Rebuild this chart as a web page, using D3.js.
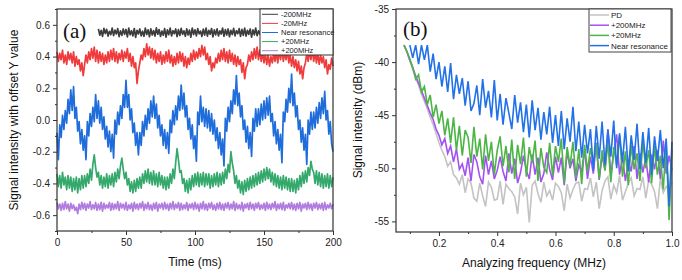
<!DOCTYPE html>
<html>
<head>
<meta charset="utf-8">
<script src="https://cdn.jsdelivr.net/npm/d3@7"></script>
<style>
  body { margin: 0; background: #fff; }
  svg { font-family: "Liberation Sans", Arial, sans-serif; }
</style>
</head>
<body>
<svg id="chart" width="682" height="280"></svg>
<script>
// ---- panel (a): time traces, one value every 1 ms ----
const tStep = 1
const blackStart = 30   // the -200MHz trace only starts at 30 ms

const minus200 = [0.575,0.535,0.565,0.527,0.578,0.545,0.572,0.529,0.559,0.538,
  0.580,0.532,0.567,0.542,0.576,0.526,0.562,0.534,0.574,0.540,
  0.571,0.524,0.579,0.537,0.563,0.530,0.577,0.521,0.566,0.543,
  0.574,0.531,0.560,0.528,0.579,0.539,0.569,0.525,0.575,0.536,
  0.564,0.529,0.581,0.541,0.570,0.527,0.561,0.535,0.576,0.523,
  0.568,0.538,0.579,0.530,0.563,0.544,0.574,0.526,0.570,0.533,
  0.578,0.540,0.562,0.528,0.575,0.536,0.567,0.522,0.580,0.539,
  0.569,0.531,0.576,0.543,0.561,0.527,0.573,0.535,0.579,0.529,
  0.566,0.541,0.577,0.524,0.568,0.537,0.575,0.530,0.562,0.542,
  0.580,0.528,0.570,0.536,0.574,0.525,0.565,0.539,0.578,0.531,
  0.563,0.544,0.576,0.527,0.571,0.534,0.579,0.529,0.566,0.540,
  0.574,0.523,0.568,0.537,0.580,0.532,0.562,0.541,0.575,0.526,
  0.569,0.535,0.577,0.530,0.564,0.543,0.573,0.528,0.579,0.538,
  0.566,0.524,0.575,0.536,0.570,0.531,0.562,0.542,0.578,0.527,
  0.571,0.539,0.576,0.529,0.565,0.534,0.580,0.525,0.568,0.541,
  0.574,0.532,0.563,0.537,0.577,0.528,0.569,0.543,0.575,0.530,
  0.566,0.535,0.579,0.526,0.571,0.538,0.564,0.533,0.576,0.529,
  0.570]

const minus20 = [0.43,0.37,0.42,0.38,0.44,0.36,0.41,0.35,0.43,0.38,
  0.42,0.36,0.43,0.34,0.40,0.35,0.38,0.31,0.36,0.28,
  0.35,0.41,0.36,0.43,0.38,0.45,0.39,0.46,0.37,0.44,
  0.36,0.43,0.37,0.42,0.35,0.41,0.36,0.43,0.37,0.44,
  0.38,0.45,0.37,0.43,0.36,0.42,0.38,0.44,0.37,0.43,
  0.39,0.45,0.37,0.42,0.34,0.40,0.33,0.36,0.23,0.31,
  0.36,0.41,0.38,0.45,0.40,0.48,0.41,0.46,0.39,0.45,
  0.38,0.44,0.36,0.42,0.37,0.43,0.35,0.41,0.36,0.43,
  0.37,0.44,0.36,0.41,0.34,0.40,0.35,0.42,0.36,0.43,
  0.37,0.42,0.34,0.40,0.33,0.39,0.35,0.42,0.37,0.44,
  0.38,0.43,0.39,0.45,0.40,0.47,0.41,0.46,0.38,0.42,
  0.35,0.40,0.31,0.36,0.33,0.39,0.36,0.42,0.37,0.44,
  0.38,0.45,0.37,0.43,0.36,0.44,0.37,0.42,0.35,0.41,
  0.34,0.40,0.35,0.38,0.30,0.36,0.26,0.33,0.35,0.41,
  0.37,0.43,0.38,0.45,0.39,0.46,0.38,0.44,0.37,0.43,
  0.36,0.42,0.35,0.41,0.34,0.40,0.36,0.42,0.37,0.43,
  0.36,0.44,0.38,0.45,0.37,0.43,0.38,0.44,0.36,0.41,
  0.34,0.40,0.33,0.38,0.31,0.37,0.29,0.34,0.26,0.33,
  0.36,0.42,0.37,0.44,0.38,0.45,0.37,0.43,0.36,0.42,
  0.35,0.41,0.36,0.40,0.33,0.38,0.29,0.35,0.32,0.39,
  0.34]

const nearRes = [-0.08,-0.25,-0.03,-0.11,0.03,-0.06,0.06,-0.02,0.13,0.04,
  0.19,0.06,0.21,0.01,0.08,-0.07,-0.01,-0.15,-0.06,-0.19,
  -0.10,-0.25,-0.01,-0.10,0.04,-0.04,0.08,-0.01,0.16,0.01,
  0.12,-0.02,0.08,-0.06,0.02,-0.12,-0.04,-0.17,-0.07,-0.20,
  -0.09,-0.24,0.00,-0.09,0.05,-0.03,0.09,0.01,0.16,0.08,
  0.25,0.08,0.16,0.00,0.07,-0.08,-0.02,-0.16,-0.08,-0.22,
  -0.08,-0.16,-0.01,-0.10,0.03,-0.06,0.07,-0.02,0.12,0.02,
  0.15,0.01,0.10,-0.05,0.03,-0.10,-0.03,-0.16,-0.06,-0.18,
  -0.08,-0.21,0.00,-0.08,0.06,-0.03,0.09,0.00,0.15,0.06,
  0.22,0.07,0.17,0.02,0.09,-0.06,0.01,-0.12,-0.03,-0.18,
  -0.10,-0.26,0.05,-0.03,0.15,-0.01,0.08,-0.04,0.07,-0.05,
  0.06,-0.07,0.04,-0.09,0.00,-0.13,-0.05,-0.18,-0.08,-0.22,
  -0.12,-0.29,0.01,-0.07,0.08,-0.01,0.12,0.04,0.19,0.10,
  0.28,0.09,0.17,0.02,0.09,-0.06,0.00,-0.14,-0.04,-0.18,
  -0.08,-0.23,0.01,-0.07,0.07,-0.04,0.07,-0.03,0.10,0.00,
  0.12,0.01,0.14,0.03,0.15,-0.01,0.04,-0.10,-0.01,-0.15,
  -0.06,-0.19,-0.09,-0.27,0.05,-0.01,0.13,0.05,0.20,0.11,
  0.29,0.09,0.17,0.02,0.09,-0.06,0.00,-0.14,-0.05,-0.19,
  -0.09,-0.28,0.00,-0.09,0.05,-0.06,0.05,-0.05,0.08,-0.02,
  0.11,0.01,0.14,0.04,0.18,0.00,0.06,-0.09,-0.01,-0.15,
  -0.20]

const plus20 = [-0.34,-0.42,-0.35,-0.43,-0.33,-0.41,-0.36,-0.44,-0.35,-0.43,
  -0.36,-0.45,-0.37,-0.44,-0.36,-0.46,-0.37,-0.44,-0.35,-0.43,
  -0.35,-0.42,-0.34,-0.40,-0.31,-0.38,-0.28,-0.22,-0.30,-0.36,
  -0.33,-0.41,-0.35,-0.43,-0.36,-0.42,-0.34,-0.43,-0.35,-0.41,
  -0.34,-0.42,-0.33,-0.39,-0.31,-0.37,-0.29,-0.24,-0.31,-0.37,
  -0.33,-0.41,-0.37,-0.45,-0.39,-0.46,-0.38,-0.45,-0.37,-0.43,
  -0.36,-0.43,-0.34,-0.40,-0.32,-0.39,-0.31,-0.40,-0.33,-0.41,
  -0.32,-0.41,-0.34,-0.42,-0.33,-0.41,-0.35,-0.43,-0.36,-0.44,
  -0.36,-0.43,-0.34,-0.40,-0.31,-0.37,-0.27,-0.18,-0.25,-0.33,
  -0.32,-0.40,-0.37,-0.45,-0.38,-0.46,-0.37,-0.44,-0.35,-0.42,
  -0.34,-0.41,-0.33,-0.42,-0.34,-0.41,-0.33,-0.42,-0.34,-0.41,
  -0.34,-0.43,-0.35,-0.42,-0.34,-0.41,-0.33,-0.42,-0.34,-0.41,
  -0.33,-0.40,-0.31,-0.37,-0.28,-0.33,-0.20,-0.27,-0.32,-0.40,
  -0.35,-0.43,-0.38,-0.46,-0.39,-0.47,-0.38,-0.45,-0.37,-0.44,
  -0.36,-0.43,-0.35,-0.42,-0.34,-0.41,-0.33,-0.40,-0.32,-0.39,
  -0.31,-0.38,-0.30,-0.37,-0.31,-0.39,-0.33,-0.41,-0.34,-0.42,
  -0.35,-0.43,-0.36,-0.44,-0.35,-0.43,-0.36,-0.44,-0.37,-0.45,
  -0.37,-0.45,-0.38,-0.46,-0.37,-0.44,-0.35,-0.42,-0.33,-0.40,
  -0.32,-0.39,-0.30,-0.35,-0.26,-0.31,-0.33,-0.40,-0.32,-0.41,
  -0.33,-0.42,-0.34,-0.43,-0.35,-0.42,-0.34,-0.43,-0.35,-0.42,
  -0.36]

const plus200 = [-0.52,-0.56,-0.53,-0.57,-0.525,-0.565,-0.515,-0.56,-0.53,-0.575,
  -0.525,-0.56,-0.535,-0.57,-0.55,-0.59,-0.53,-0.565,-0.52,-0.56,
  -0.525,-0.57,-0.53,-0.555,-0.515,-0.565,-0.535,-0.56,-0.52,-0.57,
  -0.53,-0.565,-0.52,-0.575,-0.525,-0.56,-0.535,-0.555,-0.52,-0.57,
  -0.525,-0.565,-0.53,-0.56,-0.515,-0.57,-0.525,-0.555,-0.53,-0.565,
  -0.52,-0.57,-0.535,-0.56,-0.525,-0.575,-0.52,-0.56,-0.53,-0.565,
  -0.525,-0.555,-0.515,-0.57,-0.53,-0.56,-0.52,-0.565,-0.535,-0.57,
  -0.525,-0.56,-0.52,-0.575,-0.53,-0.555,-0.525,-0.565,-0.52,-0.56,
  -0.53,-0.57,-0.525,-0.56,-0.515,-0.565,-0.53,-0.555,-0.52,-0.57,
  -0.525,-0.565,-0.535,-0.56,-0.52,-0.57,-0.53,-0.555,-0.525,-0.565,
  -0.52,-0.56,-0.53,-0.575,-0.525,-0.56,-0.515,-0.565,-0.53,-0.57,
  -0.525,-0.555,-0.52,-0.565,-0.535,-0.57,-0.525,-0.56,-0.52,-0.565,
  -0.53,-0.57,-0.525,-0.555,-0.52,-0.565,-0.53,-0.56,-0.515,-0.57,
  -0.525,-0.56,-0.535,-0.565,-0.52,-0.575,-0.53,-0.555,-0.525,-0.565,
  -0.52,-0.56,-0.53,-0.57,-0.525,-0.555,-0.52,-0.565,-0.535,-0.56,
  -0.525,-0.57,-0.52,-0.56,-0.53,-0.565,-0.525,-0.555,-0.515,-0.57,
  -0.53,-0.56,-0.525,-0.565,-0.52,-0.57,-0.535,-0.555,-0.525,-0.56,
  -0.52,-0.565,-0.53,-0.57,-0.525,-0.56,-0.52,-0.575,-0.53,-0.555,
  -0.525,-0.565,-0.52,-0.56,-0.53,-0.57,-0.525,-0.555,-0.52,-0.565,
  -0.53,-0.56,-0.525,-0.57,-0.52,-0.565,-0.535,-0.555,-0.525,-0.56,
  -0.53]

const traceNames = ["-200MHz", "-20MHz", "Near resonance", "+20MHz", "+200MHz"]
const traceColors = ["#3d3d3d", "#ef3b3b", "#1f6cdb", "#35a96c", "#b07ce0"]
const traceData = [minus200, minus20, nearRes, plus20, plus200]
const traceStart = [blackStart, 0, 0, 0, 0]

const timeTicks = [0, 50, 100, 150, 200]
const offsetTicks = [-0.6, -0.4, -0.2, 0.0, 0.2, 0.4, 0.6]

// ---- panel (b): spectra, one value every 0.01 MHz from 0.08 MHz ----
const fStart = 0.08
const fStep = 0.01

const pd = [-38.4,-39.1,-39.9,-40.7,-41.5,-42.2,-43.0,-43.7,-44.4,-45.2,
  -45.9,-46.7,-47.6,-48.3,-48.9,-49.8,-49.4,-50.6,-50.9,-51.5,
  -50.6,-52.3,-51.0,-51.4,-52.8,-53.1,-51.4,-52.6,-53.6,-51.3,
  -51.8,-53.0,-52.9,-51.2,-53.4,-51.5,-51.9,-52.2,-52.7,-54.3,
  -51.4,-52.5,-51.8,-55.1,-51.6,-51.2,-52.4,-53.2,-51.3,-52.6,
  -52.1,-53.0,-51.4,-51.7,-52.3,-54.0,-51.5,-52.8,-52.0,-51.4,
  -51.3,-53.1,-51.9,-52.0,-50.9,-52.7,-51.3,-53.8,-52.1,-51.2,
  -50.8,-52.9,-51.6,-52.3,-50.7,-53.0,-52.2,-51.4,-50.9,-52.6,
  -51.9,-52.0,-50.8,-52.8,-51.1,-51.5,-52.2,-53.8,-51.0,-52.3,
  -51.7,-52.0,-51.3]

const sp200 = [-38.4,-39.0,-39.8,-40.5,-41.3,-42.0,-42.7,-43.4,-44.1,-44.8,
  -45.4,-46.3,-46.9,-47.8,-47.2,-48.6,-47.9,-49.4,-48.2,-50.1,
  -49.6,-50.7,-49.0,-51.2,-48.7,-49.4,-50.8,-51.5,-48.8,-50.6,
  -49.3,-51.0,-50.2,-48.9,-50.3,-51.2,-48.6,-50.5,-49.1,-51.4,
  -50.4,-48.8,-50.2,-51.0,-48.7,-50.6,-49.0,-51.3,-50.5,-48.5,
  -50.1,-51.1,-48.9,-50.4,-49.0,-51.6,-48.4,-50.0,-49.1,-51.2,
  -49.7,-50.3,-48.2,-51.0,-48.9,-50.5,-47.6,-51.1,-48.8,-50.2,
  -46.3,-50.8,-48.5,-46.8,-50.6,-48.9,-51.2,-49.4,-50.3,-47.9,
  -51.0,-48.6,-50.4,-49.0,-51.3,-48.7,-50.1,-48.3,-51.0,-47.4,
  -50.5,-48.8,-50.2]

const sp20 = [-38.4,-39.0,-39.7,-40.5,-41.6,-41.2,-42.8,-42.3,-44.0,-43.1,
  -45.2,-44.0,-45.8,-44.6,-46.9,-45.3,-47.6,-45.2,-48.3,-46.0,
  -48.8,-46.4,-47.1,-49.5,-46.1,-48.9,-47.2,-50.1,-46.8,-49.3,
  -47.5,-50.6,-48.3,-47.0,-49.8,-47.9,-50.4,-47.3,-51.0,-47.8,
  -49.6,-47.1,-50.8,-48.0,-49.5,-47.4,-51.2,-48.1,-49.9,-50.4,
  -47.6,-50.7,-47.9,-49.4,-47.2,-51.4,-48.0,-49.8,-47.5,-50.9,
  -48.2,-51.5,-47.8,-50.3,-48.1,-49.6,-47.7,-51.0,-48.3,-50.2,
  -47.6,-51.3,-48.0,-49.7,-46.9,-50.8,-48.4,-51.6,-47.8,-50.1,
  -48.6,-51.2,-47.5,-50.0,-48.3,-51.4,-47.9,-50.6,-48.8,-52.0,
  -47.6,-54.9,-48.2]

const spNear = [null,null,-38.4,-39.6,-38.4,-40.2,-38.4,-39.8,-38.4,-40.9,
  -39.2,-41.6,-40.0,-42.3,-40.4,-42.8,-40.1,-43.5,-41.2,-43.0,
  -41.5,-44.1,-41.8,-44.6,-43.9,-42.2,-45.0,-41.6,-44.3,-42.7,
  -45.2,-41.7,-45.5,-43.0,-45.9,-43.4,-44.8,-46.3,-43.1,-45.7,
  -43.8,-46.6,-44.0,-47.1,-43.6,-46.4,-44.3,-47.3,-44.7,-46.8,
  -44.2,-47.6,-45.0,-47.9,-44.6,-48.2,-45.3,-47.5,-44.2,-48.4,
  -45.6,-49.0,-45.9,-48.6,-46.3,-50.2,-46.0,-49.1,-45.6,-49.7,
  -46.4,-48.9,-45.5,-50.0,-46.7,-49.4,-46.1,-50.3,-46.9,-49.2,
  -45.8,-50.1,-46.6,-49.5,-46.2,-50.6,-47.0,-49.3,-46.4,-50.0,
  -47.2,-53.6,-47.5]

const specNames = ["PD", "+200MHz", "+20MHz", "Near resonance"]
const specColors = ["#c3c3c3", "#a352f2", "#4db546", "#2271e8"]
const specData = [pd, sp200, sp20, spNear]

const freqTicks = [0.2, 0.4, 0.6, 0.8, 1.0]
const dbmTicks = [-55, -50, -45, -40, -35]

const svg = d3.select('#chart')

// draws the box, major + minor ticks for one panel
const drawFrame = (g, x, y, xMajor, xMinor, yMajor, yMinor, xFmt, yFmt) => {
  const [x0, x1] = x.range()
  const [y0, y1] = y.range()

  g.append('g')
    .attr('transform', `translate(0,${y0})`)
    .call(d3.axisBottom(x).tickValues(xMinor).tickSize(2).tickFormat(''))
  g.append('g')
    .attr('transform', `translate(${x0},0)`)
    .call(d3.axisLeft(y).tickValues(yMinor).tickSize(2).tickFormat(''))

  g.append('g')
    .attr('transform', `translate(0,${y0})`)
    .call(d3.axisBottom(x).tickValues(xMajor).tickSize(4).tickSizeOuter(0).tickPadding(4).tickFormat(xFmt))
  g.append('g')
    .attr('transform', `translate(${x0},0)`)
    .call(d3.axisLeft(y).tickValues(yMajor).tickSize(4).tickSizeOuter(0).tickPadding(3).tickFormat(yFmt))

  g.selectAll('.domain').remove()
  g.selectAll('.tick line').attr('stroke', '#333')
  g.selectAll('.tick text').attr('font-size', 10).attr('fill', '#222')
    .attr('font-family', '"Liberation Sans", Arial, sans-serif')

  g.append('rect')
    .attr('x', x0).attr('y', y1)
    .attr('width', x1 - x0).attr('height', y0 - y1)
    .attr('fill', 'none').attr('stroke', '#333').attr('stroke-width', 1.2)
}

// ---------- panel (a) ----------
const ga = svg.append('g')
const xa = d3.scaleLinear().domain([0, 200]).range([57, 333])
const ya = d3.scaleLinear().domain([-0.7, 0.7]).range([231, 9])

traceData.forEach((vals, k) => {
  const line = d3.line()
    .x((d, i) => xa(traceStart[k] + i * tStep))
    .y(d => ya(d))
  ga.append('path')
    .datum(vals)
    .attr('d', line)
    .attr('fill', 'none')
    .attr('stroke', traceColors[k])
    .attr('stroke-width', 1.7)
    .attr('stroke-linejoin', 'round')
})

drawFrame(ga, xa, ya,
  timeTicks, [25, 75, 125, 175],
  offsetTicks, [-0.7, -0.5, -0.3, -0.1, 0.1, 0.3, 0.5, 0.7],
  d => d, d => d.toFixed(1))

// legend (a)
const lgA = ga.append('g')
lgA.append('rect')
  .attr('x', 260).attr('y', 9).attr('width', 73).attr('height', 46)
  .attr('fill', '#fff').attr('stroke', '#333').attr('stroke-width', 1)
traceNames.forEach((name, k) => {
  const yy = 14.3 + k * 9.1
  lgA.append('line')
    .attr('x1', 262).attr('x2', 278).attr('y1', yy).attr('y2', yy)
    .attr('stroke', traceColors[k]).attr('stroke-width', 1)
  lgA.append('text')
    .attr('x', 281).attr('y', yy + 2.6)
    .attr('font-size', 7.5).attr('fill', '#222')
    .text(name)
})

ga.append('text')
  .attr('x', 63).attr('y', 38)
  .attr('font-family', '"Liberation Serif", "Times New Roman", serif')
  .attr('font-size', 21).attr('fill', '#111')
  .text('(a)')

ga.append('text')
  .attr('x', 195).attr('y', 266)
  .attr('text-anchor', 'middle').attr('font-size', 12).attr('fill', '#111')
  .text('Time (ms)')

ga.append('text')
  .attr('transform', 'translate(18,120) rotate(-90)')
  .attr('text-anchor', 'middle').attr('font-size', 12).attr('fill', '#111')
  .text('Signal intensity with offset Y value')

// ---------- panel (b) ----------
const gb = svg.append('g')
const xb = d3.scaleLinear().domain([0.0525, 1.0]).range([396, 672])
const yb = d3.scaleLinear().domain([-56, -35]).range([232, 9])

specData.forEach((vals, k) => {
  const line = d3.line()
    .defined(d => d !== null)
    .x((d, i) => xb(fStart + i * fStep))
    .y(d => yb(d))
  gb.append('path')
    .datum(vals)
    .attr('d', line)
    .attr('fill', 'none')
    .attr('stroke', specColors[k])
    .attr('stroke-width', 1.6)
})

drawFrame(gb, xb, yb,
  freqTicks, [0.1, 0.3, 0.5, 0.7, 0.9],
  dbmTicks, [-52.5, -47.5, -42.5, -37.5],
  d => d.toFixed(1), d => d)

// legend (b)
const lgB = gb.append('g')
lgB.append('rect')
  .attr('x', 589).attr('y', 9).attr('width', 82).attr('height', 43)
  .attr('fill', '#fff').attr('stroke', '#444').attr('stroke-width', 1)
specNames.forEach((name, k) => {
  const yy = 15 + k * 10.2
  lgB.append('line')
    .attr('x1', 590).attr('x2', 609).attr('y1', yy).attr('y2', yy)
    .attr('stroke', specColors[k]).attr('stroke-width', 1.5)
  lgB.append('text')
    .attr('x', 611).attr('y', yy + 3)
    .attr('font-size', 8).attr('fill', '#222')
    .text(name)
})

gb.append('text')
  .attr('x', 403).attr('y', 36)
  .attr('font-family', '"Liberation Serif", "Times New Roman", serif')
  .attr('font-size', 21).attr('fill', '#111')
  .text('(b)')

gb.append('text')
  .attr('x', 534).attr('y', 267)
  .attr('text-anchor', 'middle').attr('font-size', 12).attr('fill', '#111')
  .text('Analyzing frequency (MHz)')

gb.append('text')
  .attr('transform', 'translate(362,120) rotate(-90)')
  .attr('text-anchor', 'middle').attr('font-size', 12).attr('fill', '#111')
  .text('Signal intensity (dBm)')
</script>
</body>
</html>
